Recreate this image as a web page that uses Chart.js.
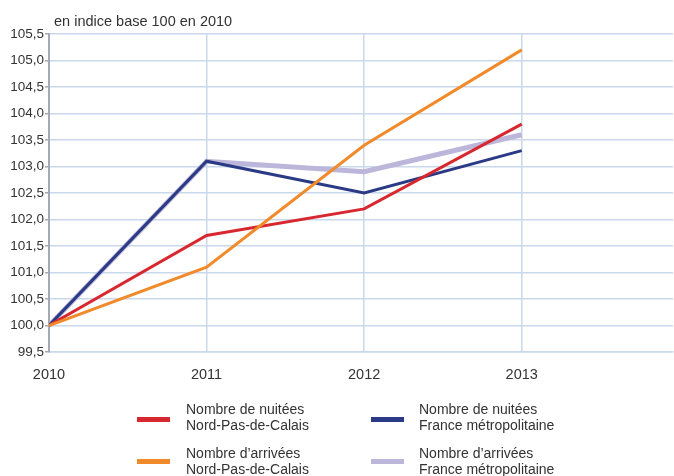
<!DOCTYPE html>
<html lang="fr">
<head>
<meta charset="utf-8">
<script src="https://cdn.jsdelivr.net/npm/chart.js@4/dist/chart.umd.min.js"></script>
<style>
  html, body { margin: 0; padding: 0; background: #fff; }
  #wrap { position: relative; width: 674px; height: 476px; font-family: "Liberation Sans", Arial, sans-serif; color: #333; }
  #c { position: absolute; left: 0; top: 0; }
  #title { position: absolute; left: 54px; top: 13px; font-size: 14.5px; line-height: 16px; white-space: nowrap; }
  .leg { position: absolute; font-size: 14px; line-height: 16px; white-space: nowrap; }
  .sw { position: absolute; width: 33px; height: 5px; }
</style>
</head>
<body>
<div id="wrap">
  <canvas id="c" width="674" height="476"></canvas>
  <div id="title">en indice base 100 en 2010</div>
  <div id="legend"></div>
</div>
<script>
const years = [2010, 2011, 2012, 2013];
const nuiteesNPDC = [100, 101.7, 102.2, 103.8];
const nuiteesFrance = [100, 103.1, 102.5, 103.3];
const arriveesNPDC = [100, 101.1, 103.4, 105.2];
const arriveesFrance = [100, 103.1, 102.9, 103.6];
const seriesLabels = [
  ["Nombre de nuitées", "Nord-Pas-de-Calais"],
  ["Nombre de nuitées", "France métropolitaine"],
  ["Nombre d\u2019arrivées", "Nord-Pas-de-Calais"],
  ["Nombre d\u2019arrivées", "France métropolitaine"]
];
const colors = ["#d8282f", "#2b3a85", "#f08a2a", "#bcb7da"];
const yTicks = [99.5, 100, 100.5, 101, 101.5, 102, 102.5, 103, 103.5, 104, 104.5, 105, 105.5];

const toPts = arr => arr.map((v, i) => ({ x: years[i], y: v }));
const values = [nuiteesNPDC, nuiteesFrance, arriveesNPDC, arriveesFrance];
const widths = [3, 3, 3, 5];
const orders = [1, 2, 0, 3];

const datasets = values.map((v, i) => ({
  label: seriesLabels[i].join(" "),
  data: toPts(v),
  borderColor: colors[i],
  backgroundColor: colors[i],
  borderWidth: widths[i],
  pointRadius: 0,
  tension: 0,
  order: orders[i],
  borderCapStyle: 'butt',
  borderJoinStyle: 'miter'
}));

Chart.defaults.font.family = '"Liberation Sans", Arial, sans-serif';
Chart.defaults.font.size = 13;
Chart.defaults.color = '#333';

new Chart(document.getElementById('c'), {
  type: 'line',
  data: { datasets },
  options: {
    responsive: false,
    animation: false,
    events: [],
    layout: { padding: { top: 34, right: 1, left: 0, bottom: 0 } },
    plugins: { legend: { display: false }, title: { display: false }, tooltip: { enabled: false } },
    scales: {
      x: {
        type: 'linear',
        min: 2010,
        max: 2013.96,
        afterBuildTicks: s => { s.ticks = years.map(v => ({ value: v })); },
        afterFit: s => { s.height = 124; },
        grid: { color: '#c9d8eb', lineWidth: 1.5, drawTicks: false },
        border: { color: '#c9d8eb', width: 1.5 },
        ticks: { padding: 14, font: { size: 14.5 }, callback: v => String(v), color: '#333', maxRotation: 0 }
      },
      y: {
        min: 99.5,
        max: 105.5,
        afterBuildTicks: s => { s.ticks = yTicks.map(v => ({ value: v })); },
        afterFit: s => { s.width = 49; },
        grid: { color: '#c9d8eb', lineWidth: 1.5, tickColor: '#a3a9b6', tickLength: 4 },
        border: { color: '#a3a9b6', width: 2 },
        ticks: { padding: 1, font: { size: 13.5 }, color: '#333', callback: v => Number(v).toFixed(1).replace('.', ',') }
      }
    }
  }
});

// HTML legend built from series labels / colors
const legPos = [
  { sx: 137, sy: 417, tx: 186, ty: 401 },
  { sx: 371, sy: 417, tx: 419, ty: 401 },
  { sx: 137, sy: 459, tx: 186, ty: 445 },
  { sx: 371, sy: 459, tx: 419, ty: 445 }
];
const legend = document.getElementById('legend');
seriesLabels.forEach((lab, i) => {
  const p = legPos[i];
  const sw = document.createElement('div');
  sw.className = 'sw';
  sw.style.left = p.sx + 'px'; sw.style.top = p.sy + 'px'; sw.style.background = colors[i];
  legend.appendChild(sw);
  const t = document.createElement('div');
  t.className = 'leg';
  t.style.left = p.tx + 'px'; t.style.top = p.ty + 'px';
  t.innerHTML = lab[0] + '<br>' + lab[1];
  legend.appendChild(t);
});
</script>
</body>
</html>
